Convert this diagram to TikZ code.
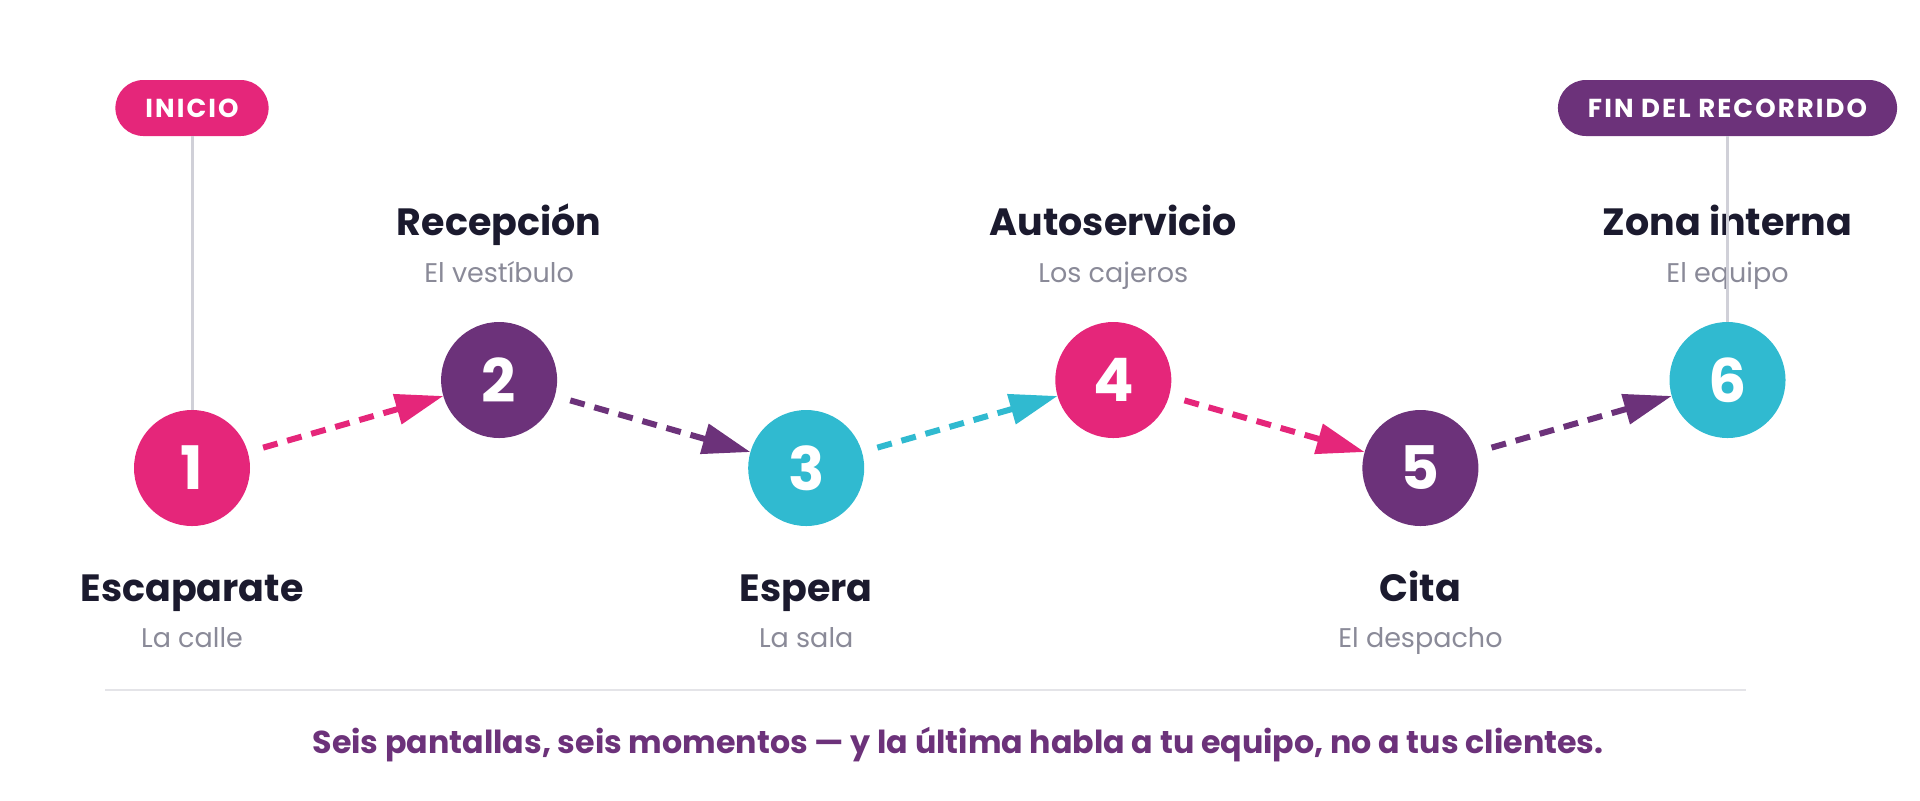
\documentclass[tikz,border=0pt]{standalone}
\usepackage{fontspec}
\setmainfont{Poppins}
\usetikzlibrary{arrows.meta,positioning}

\definecolor{rosa}{HTML}{E5267A}
\definecolor{morado}{HTML}{6C327A}
\definecolor{turquesa}{HTML}{30BAD0}
\definecolor{tinta}{HTML}{1B1A2E}
\definecolor{gris}{HTML}{8A8A98}
\definecolor{guia}{HTML}{D0D0D8}
\definecolor{regla}{HTML}{E4E4E8}

\begin{document}
\begin{tikzpicture}[x=0.5pt,y=-0.5pt,on grid,
  etapa/.style={circle,fill=#1,minimum size=58pt,inner sep=0pt,outer sep=0pt,
    text=white,font=\fontsize{30}{30}\selectfont\bfseries},
  titulo/.style={anchor=base,inner sep=0pt,text=tinta,
    font=\fontsize{19}{19}\selectfont\bfseries},
  lugar/.style={anchor=base,inner sep=0pt,text=gris,
    font=\fontsize{13.5}{13.5}\selectfont},
  pastilla/.style={fill=#1,rounded corners=14pt,minimum height=28pt,
    inner xsep=15pt,outer sep=0pt,text=white,
    font=\fontsize{13}{13}\selectfont\bfseries\addfontfeature{LetterSpace=8}},
  flecha/.style={color=#1,line width=3pt,dash pattern=on 7.5pt off 5pt,
    -{Triangle[length=24pt,width=15pt]},shorten <=8pt},
  linea guia/.style={draw=guia,line width=1.5pt}]
    \useasboundingbox (0,0) rectangle (1920,800);

    \node[etapa=rosa] (E1) at (192,468) {1};
    \node[etapa=morado,above right=44pt and 153.55pt of E1] (E2) {2};
    \node[etapa=turquesa,below right=44pt and 153.55pt of E2] (E3) {3};
    \node[etapa=rosa,above right=44pt and 153.55pt of E3] (E4) {4};
    \node[etapa=morado,below right=44pt and 153.55pt of E4] (E5) {5};
    \node[etapa=turquesa,above right=44pt and 153.55pt of E5] (E6) {6};

    \node[above=180pt of E1,pastilla=rosa] (inicio) {INICIO};
    \node[above=136pt of E6,pastilla=morado] (fin) {FIN DEL RECORRIDO};

    % etiquetas abajo
    \node[below=66.5pt of E1,titulo] (T1) {Escaparate};
    \node[below=89.5pt of E1,lugar] (L1) {La calle};
    \node[below=66.5pt of E3,titulo] (T3) {Espera};
    \node[below=89.5pt of E3,lugar] (L3) {La sala};
    \node[below=66.5pt of E5,titulo] (T5) {Cita};
    \node[below=89.5pt of E5,lugar] (L5) {El despacho};
    % etiquetas arriba
    \node[above=72.5pt of E2,titulo] (T2) {Recepción};
    \node[above=49pt of E2,lugar] (L2) {El vestíbulo};
    \node[above=72.5pt of E4,titulo] (T4) {Autoservicio};
    \node[above=49pt of E4,lugar] (L4) {Los cajeros};
    \node[above=72.5pt of E6,titulo] (T6) {Zona interna};
    \node[above=49pt of E6,lugar] (L6) {El equipo};

    \path (inicio) edge[linea guia] (E1)
          (fin) edge[linea guia] (E6)
    ;
    \path (E1) edge[flecha=rosa] (E2)
          (E2) edge[flecha=morado] (E3)
          (E3) edge[flecha=turquesa] (E4)
          (E4) edge[flecha=rosa] (E5)
          (E5) edge[flecha=morado] (E6)
    ;

    \coordinate (R1) at (105,690);
    \coordinate (R2) at (1746,690);
    \draw[regla,line width=1pt] (R1) -- (R2);
    \node[anchor=base,inner sep=0pt,text=morado,
      font=\fontsize{15.85}{15.85}\selectfont\bfseries] (lema) at (958,753)
      {Seis pantallas, seis momentos — y la última habla a tu equipo, no a tus clientes.};
\end{tikzpicture}
\end{document}
